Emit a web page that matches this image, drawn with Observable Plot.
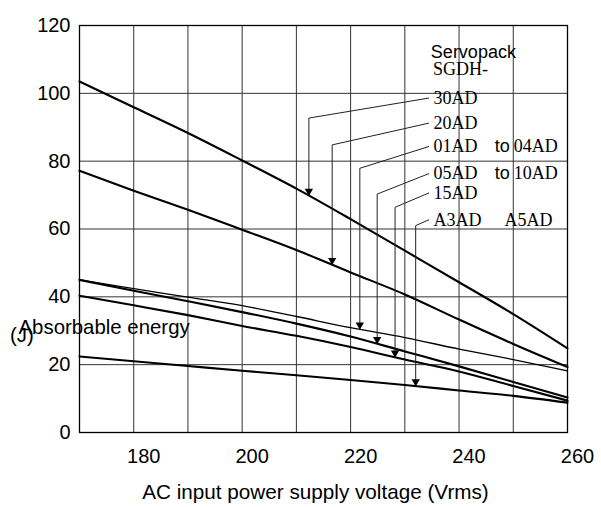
<!DOCTYPE html>
<html><head><meta charset="utf-8">
<script src="https://cdn.jsdelivr.net/npm/d3@7"></script>
<script src="https://cdn.jsdelivr.net/npm/@observablehq/plot@0.6"></script>
<style>body{margin:0;background:#fff} svg{display:block}</style>
</head><body><div id="chart"></div>
<script>
// ---- data ----
const voltage = [170, 180, 190, 200, 210, 220, 230, 240, 250, 260];
const e30AD   = [103.5, 95.9, 88.3, 80.2, 71.9, 62.9, 53.6, 44.3, 34.9, 24.8];
const e20AD   = [77.2, 71.3, 65.7, 59.8, 53.8, 47.2, 40.7, 33.3, 26.1, 19.3];
const e01to04 = [45.0, 42.4, 39.9, 37.4, 34.2, 30.9, 28.0, 24.6, 21.5, 18.2];
const e05to10 = [45.0, 41.8, 38.7, 35.5, 32.1, 28.3, 23.9, 19.5, 14.9, 10.3];
const e15AD   = [40.3, 37.5, 34.6, 31.4, 28.5, 25.2, 21.5, 18.0, 13.7, 9.4];
const eA3A5   = [22.4, 21.0, 19.6, 18.2, 16.9, 15.5, 14.0, 12.4, 10.8, 8.8];

const seriesNames = ["30AD", "20AD", "01AD to 04AD", "05AD to 10AD", "15AD", "A3AD A5AD"];
const labelMain   = ["30AD", "20AD", "01AD", "05AD", "15AD", "A3AD"];
const labelTo     = ["", "", "to", "to", "", ""];
const labelEnd    = ["", "", "04AD", "10AD", "", "A5AD"];

const xTicks = [180, 200, 220, 240, 260];
const yTicks = [0, 20, 40, 60, 80, 100, 120];
const xGrid = [180, 190, 200, 210, 220, 230, 240, 250];
const yGrid = [20, 40, 60, 80, 100];

// ---- annotation layout (data units: volts / joules) ----
const arrowV  = [212.3, 216.6, 221.7, 224.9, 228.2, 232.0];
const bendJ   = [92.7, 84.8, 77.9, 70.3, 66.4, 61.0];
const labelJ  = [98.6, 91.2, 84.3, 76.3, 70.6, 62.7];
const labelV = 235.3, leaderV = 234.4, toV = 246.6, endV = 250.1, endV2 = 248.4;

const seriesValues = [e30AD, e20AD, e01to04, e05to10, e15AD, eA3A5];
const rows = seriesValues.flatMap((vals, i) => vals.map((e, k) => ({series: seriesNames[i], v: voltage[k], e})));
const thinSeries = "01AD to 04AD";

function interp(vals, v) {
  return d3.scaleLinear().domain(voltage).range(vals)(v);
}
const annot = seriesNames.map((s, i) => ({
  series: s, main: labelMain[i], to: labelTo[i], end: labelEnd[i],
  av: arrowV[i], bj: bendJ[i], lj: labelJ[i], tip: interp(seriesValues[i], arrowV[i]),
  endV: labelEnd[i] === "A5AD" ? endV2 : endV
}));
const leaders = annot.flatMap(a => [
  {series: a.series, v: leaderV, e: a.lj},
  {series: a.series, v: a.av, e: a.bj},
  {series: a.series, v: a.av, e: a.tip}
]);

const serif = "'Liberation Serif', 'Times New Roman', serif";
const sans = "'Liberation Sans', Arial, sans-serif";

const chart = Plot.plot({
  width: 601, height: 507,
  marginLeft: 79, marginRight: 34, marginTop: 25, marginBottom: 75,
  style: {fontFamily: sans, fontSize: "20px", background: "#fff", color: "#000"},
  x: {domain: [170, 260]},
  y: {domain: [0, 120]},
  marks: [
    Plot.ruleX(xGrid, {stroke: "#333", strokeWidth: 1}),
    Plot.ruleY(yGrid, {stroke: "#333", strokeWidth: 1}),
    Plot.frame({stroke: "#000", strokeWidth: 1.3}),
    Plot.axisX(xTicks, {tickSize: 0, tickPadding: 16, dx: 10, fontSize: 20, label: null}),
    Plot.axisY(yTicks, {tickSize: 0, tickPadding: 9, fontSize: 20, label: null}),
    Plot.line(rows.filter(d => d.series !== thinSeries), {x: "v", y: "e", z: "series", stroke: "#000", strokeWidth: 2.1, curve: "monotone-x"}),
    Plot.line(rows.filter(d => d.series === thinSeries), {x: "v", y: "e", z: "series", stroke: "#000", strokeWidth: 1.3, curve: "monotone-x"}),
    Plot.line(leaders, {x: "v", y: "e", z: "series", stroke: "#222", strokeWidth: 1}),
    Plot.dot(annot, {x: "av", y: "tip", symbol: "triangle", rotate: 180, r: 3.1, fill: "#000", stroke: "none", dy: -4.5}),
    Plot.text(annot, {x: labelV, y: "lj", text: "main", textAnchor: "start", fontFamily: serif, fontSize: 18}),
    Plot.text(annot.filter(a => a.to), {x: toV, y: "lj", text: "to", textAnchor: "start", fontFamily: sans, fontSize: 18}),
    Plot.text(annot.filter(a => a.end), {x: "endV", y: "lj", text: "end", textAnchor: "start", fontFamily: serif, fontSize: 18}),
    Plot.text(["Servopack"], {x: 234.8, y: 112.2, textAnchor: "start", fontFamily: sans, fontSize: 18}),
    Plot.text(["SGDH-"], {x: 235.2, y: 107.0, textAnchor: "start", fontFamily: serif, fontSize: 18}),
    Plot.text(["Absorbable energy"], {frameAnchor: "left", dx: -61, dy: 98.3, textAnchor: "start", fontSize: 20.4}),
    Plot.text(["(J)"], {frameAnchor: "left", dx: -69.5, dy: 106.2, textAnchor: "start", fontSize: 20.4}),
    Plot.text(["AC input power supply voltage (Vrms)"], {frameAnchor: "bottom", dx: -8, dy: 66, fontSize: 20.7})
  ]
});
document.getElementById("chart").appendChild(chart);
</script>
</body></html>
